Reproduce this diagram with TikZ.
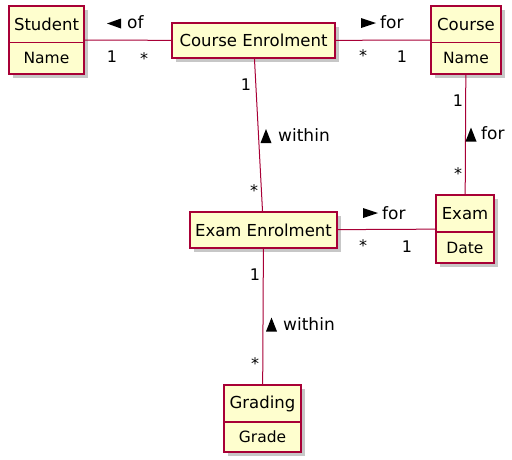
\documentclass[tikz,border=0pt]{standalone}
\usepackage{fontspec}
\setmainfont{DejaVu Sans}
\usetikzlibrary{shadows}
\definecolor{umlred}{HTML}{A80036}
\definecolor{umlfill}{HTML}{FEFECE}
\tikzset{
  cls/.style={draw=umlred, fill=umlfill, line width=1.4pt, inner sep=0pt,
    drop shadow={opacity=0.4, shadow xshift=3.5pt, shadow yshift=-3.5pt, fill=black!55}},
  hdr/.style={font=\fontsize{16.5}{18}\selectfont, inner sep=0pt},
  attr/.style={font=\fontsize{15.5}{17}\selectfont, inner sep=0pt},
  conn/.style={draw=umlred, line width=1pt},
  lbl/.style={font=\fontsize{17}{19}\selectfont, inner sep=0pt, anchor=west},
  mult/.style={font=\fontsize{16}{18}\selectfont, inner sep=0pt, anchor=base},
  tri/.style={fill=black},
}
\begin{document}
\begin{tikzpicture}[x=1pt,y=-1pt]
\useasboundingbox (0,0) rectangle (512,459);
% classes
\node[cls, minimum width=75pt, minimum height=68pt] (student) at (46.5,40) {};
\draw[umlred, line width=1.2pt] (student.west |- 0,42.7) -- (student.east |- 0,42.7);
\node[hdr] (studentN) at (46.5,24.3) {Student};
\node[attr] (studentA) at (46.5,58.3) {Name};

\node[cls, minimum width=70pt, minimum height=68pt] (course) at (466,40) {};
\draw[umlred, line width=1.2pt] (course.west |- 0,42.7) -- (course.east |- 0,42.7);
\node[hdr] (courseN) at (466,24.3) {Course};
\node[attr] (courseA) at (466,58.3) {Name};

\node[cls, minimum width=163pt, minimum height=35pt] (ce) at (253.5,40.5) {};
\node[hdr] (ceN) at (253.5,40.5) {Course Enrolment};

\node[cls, minimum width=147pt, minimum height=36pt] (ee) at (263.5,230) {};
\node[hdr] (eeN) at (263.5,230) {Exam Enrolment};

\node[cls, minimum width=58pt, minimum height=68pt] (exam) at (465,229) {};
\draw[umlred, line width=1.2pt] (exam.west |- 0,232) -- (exam.east |- 0,232);
\node[hdr] (examN) at (465,213.5) {Exam};
\node[attr] (examA) at (465,247.5) {Date};

\node[cls, minimum width=77pt, minimum height=67pt] (grading) at (262.5,418.5) {};
\draw[umlred, line width=1.2pt] (grading.west |- 0,422) -- (grading.east |- 0,422);
\node[hdr] (gradingN) at (262.5,403.5) {Grading};
\node[attr] (gradingA) at (262.5,437) {Grade};

% connectors
\draw[conn] (student) -- (ce);
\draw[conn] (ce) -- (course);
\draw[conn] (ce) -- (ee);
\draw[conn] (course) -- (exam);
\draw[conn] (ee) -- (exam);
\draw[conn] (ee) -- (grading);

% association labels with direction triangles
\fill[tri] (107,23.5) -- (121,18.5) -- (121,28.5) -- cycle;
\node[lbl] (l1) at (127,22.5) {of};
\fill[tri] (376,23) -- (361,18) -- (361,28) -- cycle;
\node[lbl] (l2) at (380,22.5) {for};
\fill[tri] (266,129) -- (271.5,143) -- (260.5,143) -- cycle;
\node[lbl] (l3) at (278,135.5) {within};
\fill[tri] (471,127.5) -- (476.5,141.5) -- (465.5,141.5) -- cycle;
\node[lbl] (l4) at (481,133.5) {for};
\fill[tri] (378,213) -- (363,208) -- (363,218) -- cycle;
\node[lbl] (l5) at (382,213) {for};
\fill[tri] (271.5,317.5) -- (277,331.5) -- (266,331.5) -- cycle;
\node[lbl] (l6) at (283,324.5) {within};

% multiplicities
\node[mult] (m1a) at (112,62) {1};
\node[mult] (m1b) at (144,64) {*};
\node[mult] (m2a) at (363,61) {*};
\node[mult] (m2b) at (402,62) {1};
\node[mult] (m3a) at (246,90) {1};
\node[mult] (m3b) at (254,196) {*};
\node[mult] (m4a) at (458,106) {1};
\node[mult] (m4b) at (458,179) {*};
\node[mult] (m5a) at (363,251) {*};
\node[mult] (m5b) at (407,252) {1};
\node[mult] (m6a) at (255,280) {1};
\node[mult] (m6b) at (255,369) {*};
\end{tikzpicture}
\end{document}
